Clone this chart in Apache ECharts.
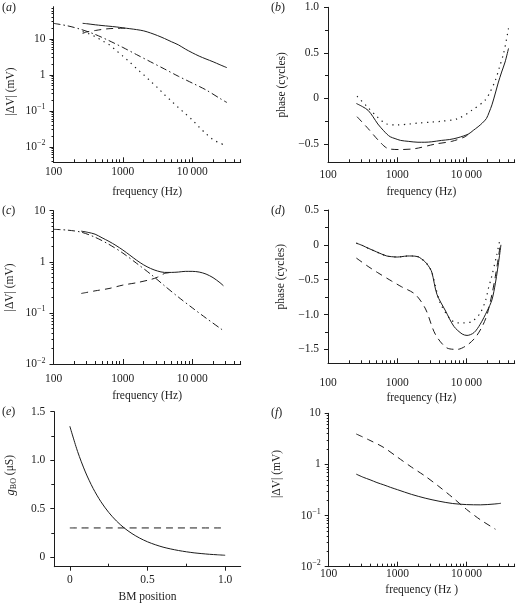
<!DOCTYPE html>
<html><head><meta charset="utf-8">
<script src="https://cdn.jsdelivr.net/npm/echarts@6/dist/echarts.min.js"></script>
<style>html,body{margin:0;padding:0;background:#fff}#c{width:517px;height:604px}</style>
</head><body><div id="c"></div>
<script>
// ---------- DATA ----------
// (a) magnitude
const freqA = [263, 300, 400, 500, 630, 800, 1000, 1260, 1580, 2000, 2510, 3160, 3980, 5010, 6310, 7940, 10000, 12600, 15800, 20000, 25100, 31600];
const aSolid = [26.9, 26.3, 24.5, 23.4, 22.4, 21.4, 20.2, 19.1, 18.0, 16.6, 14.5, 12.3, 10.2, 8.3, 6.8, 5.2, 4.1, 3.3, 2.75, 2.3, 1.9, 1.58];
const freqADash = [263, 300, 400, 500, 630, 800, 1000, 1260];
const aDash = [14.1, 15.5, 17.0, 18.2, 19.1, 19.5, 19.7, 19.1];
const freqADashDot = [100, 160, 250, 400, 630, 1000, 1580, 2510, 3980, 6310, 10000, 15800, 25100, 31600];
const aDashDot = [26.9, 22.9, 18.2, 13.2, 8.9, 5.75, 3.63, 2.29, 1.45, 0.91, 0.59, 0.38, 0.22, 0.17];
const freqADot = [263, 316, 398, 501, 631, 794, 1000, 1259, 1585, 1995, 2512, 3162, 3981, 5012, 6310, 7943, 10000, 12589, 15849, 19953, 25119, 28184];
const aDot = [15.8, 14.1, 11.5, 8.9, 6.9, 4.8, 3.3, 2.24, 1.48, 1.0, 0.66, 0.44, 0.28, 0.186, 0.123, 0.083, 0.056, 0.035, 0.023, 0.0158, 0.0126, 0.0115];
// (b) phase
const freqBSolid = [257, 316, 380, 447, 525, 631, 708, 794, 933, 1122, 1445, 2000, 2512, 3162, 4365, 5754, 7586, 10715, 12589, 14791, 16982, 19498, 21380, 23442, 26303, 28840, 32359, 36308, 40738];
const bSolid = [-0.055, -0.09, -0.13, -0.2, -0.28, -0.35, -0.39, -0.42, -0.44, -0.46, -0.47, -0.48, -0.48, -0.475, -0.46, -0.45, -0.43, -0.39, -0.35, -0.31, -0.27, -0.22, -0.15, -0.07, 0.06, 0.17, 0.29, 0.40, 0.55];
const freqBDot = [263, 363, 513, 708, 1000, 1500, 2000, 3000, 4365, 7586, 12000, 18600, 22000, 26300, 30000, 34700, 40700];
const bDot = [0.025, -0.085, -0.20, -0.28, -0.29, -0.28, -0.27, -0.26, -0.25, -0.22, -0.13, -0.02, 0.07, 0.20, 0.34, 0.5, 0.77];
const freqBDash = [263, 380, 537, 741, 1096, 1820, 3548, 6166, 9550, 10715];
const bDash = [-0.20, -0.33, -0.46, -0.55, -0.56, -0.55, -0.50, -0.47, -0.42, -0.39];
// (c) magnitude
const freqCSolid = [251, 316, 398, 501, 631, 794, 1000, 1259, 1585, 1995, 2512, 3162, 3981, 5012, 6310, 7943, 10000, 12589, 15849, 19953, 25119, 28184];
const cSolid = [3.98, 3.76, 3.47, 2.95, 2.51, 2.09, 1.70, 1.35, 1.07, 0.87, 0.74, 0.66, 0.62, 0.62, 0.63, 0.65, 0.65, 0.63, 0.575, 0.49, 0.39, 0.34];
const freqCDashDot = [100, 158, 251, 398, 631, 1000, 1585, 2512, 3981, 6310, 10000, 15849, 26915];
const cDashDot = [4.32, 4.17, 3.80, 3.02, 2.19, 1.48, 0.93, 0.575, 0.34, 0.204, 0.126, 0.079, 0.047];
const freqCDash = [251, 398, 631, 1000, 1585, 2512, 3162, 3981, 5012];
const cDash = [0.24, 0.27, 0.30, 0.35, 0.39, 0.45, 0.50, 0.59, 0.62];
// (d) phase
const freqDSolid = [257, 316, 380, 501, 589, 708, 832, 1000, 1148, 1413, 1622, 1995, 2239, 2512, 2818, 3162, 3758, 5012, 6607, 8710, 10233, 12882, 15849, 19953, 23442, 26303, 28184, 30200, 31623];
const dSolid = [0.024, -0.01, -0.048, -0.10, -0.13, -0.16, -0.17, -0.175, -0.17, -0.16, -0.16, -0.17, -0.2, -0.24, -0.30, -0.39, -0.71, -0.95, -1.17, -1.28, -1.30, -1.26, -1.14, -0.95, -0.79, -0.55, -0.36, -0.15, 0.0];
const freqDDot = [257, 316, 380, 501, 589, 708, 832, 1000, 1148, 1413, 1622, 1995, 2239, 2512, 2818, 3162, 3548, 4169, 5888, 7413, 9120, 12023, 15849, 19055, 20893, 22909, 27542, 30903];
const dDot = [0.024, -0.01, -0.048, -0.10, -0.13, -0.16, -0.17, -0.175, -0.17, -0.16, -0.16, -0.17, -0.2, -0.24, -0.30, -0.39, -0.58, -0.83, -1.07, -1.12, -1.12, -1.10, -0.98, -0.79, -0.62, -0.48, -0.14, 0.10];
const freqDDash = [257, 380, 525, 832, 1148, 1820, 2570, 3548, 5248, 7413, 10233, 13490, 16982, 19953, 23442, 26303, 28840, 30903];
const dDash = [-0.19, -0.31, -0.40, -0.52, -0.60, -0.71, -0.92, -1.28, -1.48, -1.50, -1.44, -1.33, -1.17, -1.0, -0.71, -0.45, -0.2, 0.0];
// (e) conductance vs BM position
const posE = [0, 0.05, 0.1, 0.15, 0.2, 0.25, 0.3, 0.35, 0.4, 0.45, 0.5, 0.55, 0.6, 0.65, 0.7, 0.75, 0.8, 0.85, 0.9, 0.95, 1.0];
const eSolid = [1.35, 1.089, 0.878, 0.708, 0.571, 0.461, 0.372, 0.300, 0.242, 0.195, 0.157, 0.127, 0.102, 0.083, 0.067, 0.054, 0.043, 0.035, 0.028, 0.023, 0.018];
const posEDash = [0, 1.0];
const eDash = [0.3, 0.3];
// (f) magnitude
const freqFSolid = [251, 316, 398, 501, 631, 794, 1000, 1585, 2512, 3981, 6310, 10000, 15849, 25119, 31623];
const fSolid = [0.646, 0.562, 0.501, 0.442, 0.398, 0.355, 0.320, 0.260, 0.219, 0.191, 0.172, 0.164, 0.162, 0.168, 0.174];
const freqFDash = [251, 398, 631, 1000, 1585, 2512, 3981, 6310, 10000, 15849, 26303];
const fDash = [3.94, 2.95, 2.14, 1.38, 0.89, 0.59, 0.37, 0.224, 0.132, 0.083, 0.054];
// tick values
const freqMajor = [100, 1000, 10000];
const freqMinor = [200, 300, 400, 500, 600, 700, 800, 900, 2000, 3000, 4000, 5000, 6000, 7000, 8000, 9000, 20000, 30000, 40000, 50000];
const magMajor = [0.01, 0.1, 1, 10];
const magMinor = [0.02, 0.03, 0.04, 0.05, 0.06, 0.07, 0.08, 0.09, 0.2, 0.3, 0.4, 0.5, 0.6, 0.7, 0.8, 0.9, 2, 3, 4, 5, 6, 7, 8, 9];
const magMinorA = [0.004, 0.005, 0.006, 0.007, 0.008, 0.009, 0.02, 0.03, 0.04, 0.05, 0.06, 0.07, 0.08, 0.09, 0.2, 0.3, 0.4, 0.5, 0.6, 0.7, 0.8, 0.9, 2, 3, 4, 5, 6, 7, 8, 9, 20, 30, 40, 50, 60, 70];
const phaseMajorB = [-0.5, 0, 0.5, 1.0];
const phaseMinorB = [-0.25, 0.25, 0.75];
const phaseMajorD = [-1.5, -1.0, -0.5, 0, 0.5];
const phaseMinorD = [-1.25, -0.75, -0.25, 0.25];
const gMajor = [0, 0.5, 1.0, 1.5];
const gMinor = [0.25, 0.75, 1.25];
const posMajor = [0, 0.5, 1.0];
const posMinor = [0.25, 0.75];

// ---------- STYLE / BUILD ----------
const FONT = 'Liberation Serif';
const INK = '#1c1c1c';
const RICH = { s: { fontSize: 8, fontFamily: FONT, color: INK, verticalAlign: 'top', lineHeight: 8 }, n: { fontSize: 11.5, fontFamily: FONT, color: INK, lineHeight: 15 } };
const NAMERICH = {
  i: { fontStyle: 'italic', fontSize: 12.5, fontFamily: FONT, color: INK, lineHeight: 16 },
  sub: { fontSize: 8, fontFamily: FONT, color: INK, verticalAlign: 'bottom', lineHeight: 8 },
  t: { fontSize: 11.5, fontFamily: FONT, color: INK, lineHeight: 16 }
};

const fmtFreq = v => (Math.abs(v - 10000) < 1 ? '10\u2009000' : String(Math.round(v)));
const fmtMag = v => (v >= 1 ? '{n|' + Math.round(v) + '}' : '{n|10}{s|\u2212' + Math.round(-Math.log10(v)) + '}');
const fmtLin = v => (Math.abs(v) < 1e-9 ? '0' : (v < 0 ? '\u2212' : '') + Math.abs(v).toFixed(1));

function axisPair(gi, pos, c) {
  const base = { gridIndex: gi, position: pos, type: c.type, min: c.min, max: c.max, splitLine: { show: false }, silent: true };
  if (c.type === 'log') base.logBase = 10;
  const main = Object.assign({}, base, {
    axisLine: { show: true, onZero: false, lineStyle: { color: INK, width: 1 } },
    axisTick: { show: true, inside: c.majorInside, length: c.majorLen, customValues: c.major, lineStyle: { color: INK, width: 1 } },
    axisLabel: { show: true, customValues: c.major, formatter: c.fmt, fontFamily: FONT, fontSize: 11.5, color: INK, margin: c.margin, rich: RICH },
    name: c.name, nameLocation: 'middle', nameGap: c.nameGap,
    nameTextStyle: { fontFamily: FONT, fontSize: 11.5, color: INK, rich: NAMERICH, padding: c.namePad || 0 }
  });
  const minor = Object.assign({}, base, {
    axisLine: { show: false, onZero: false },
    axisLabel: { show: false },
    axisTick: { show: true, inside: c.minorInside, length: c.minorLen, customValues: c.minor, lineStyle: { color: INK, width: 1 } }
  });
  return [main, minor];
}

const grids = [
  { left: 53.5, top: 6.7, width: 187.2, height: 155.6 },
  { left: 328, top: 7.3, width: 186.7, height: 155 },
  { left: 53.5, top: 210.7, width: 187.2, height: 153.3 },
  { left: 328, top: 210, width: 186.7, height: 153.3 },
  { left: 54.3, top: 411.7, width: 186.4, height: 155 },
  { left: 328.7, top: 413.3, width: 186, height: 153.4 }
];

const X = [], Y = [];
const freqX = (gi, margin, gap, name) => axisPair(gi, 'bottom', { type: 'log', min: 100, max: 50000, major: freqMajor, minor: freqMinor, fmt: fmtFreq, majorInside: true, minorInside: true, majorLen: 5, minorLen: 3, margin: margin, name: name, nameGap: gap });
X.push(...freqX(0, 4, 24, 'frequency (Hz)'));
X.push(...freqX(1, 7, 24, 'frequency (Hz)'));
X.push(...freqX(2, 8.5, 26, 'frequency (Hz)'));
X.push(...freqX(3, 13.5, 29, 'frequency (Hz)'));
X.push(...axisPair(4, 'bottom', { type: 'value', min: -0.1, max: 1.1, major: posMajor, minor: posMinor, fmt: fmtLin, majorInside: false, minorInside: true, majorLen: 4, minorLen: 3, margin: 7.5, name: 'BM position', nameGap: 24 }));
X.push(...freqX(5, 1.5, 17, 'frequency (Hz )'));

const magName = '|\u0394V| (mV)';
Y.push(...axisPair(0, 'left', { type: 'log', min: 0.0037, max: 78, major: magMajor, minor: magMinorA, fmt: fmtMag, majorInside: false, minorInside: false, majorLen: 4, minorLen: 2, margin: 8, name: magName, nameGap: 37, namePad: [0, 14, 0, 0] }));
Y.push(...axisPair(1, 'left', { type: 'value', min: -0.7, max: 1.0, major: phaseMajorB, minor: phaseMinorB, fmt: fmtLin, majorInside: false, minorInside: false, majorLen: 4, minorLen: 3, margin: 9, name: 'phase (cycles)', nameGap: 40 }));
Y.push(...axisPair(2, 'left', { type: 'log', min: 0.01, max: 10, major: magMajor, minor: magMinor, fmt: fmtMag, majorInside: false, minorInside: false, majorLen: 4, minorLen: 2, margin: 8, name: magName, nameGap: 38 }));
Y.push(...axisPair(3, 'left', { type: 'value', min: -1.7, max: 0.5, major: phaseMajorD, minor: phaseMinorD, fmt: fmtLin, majorInside: false, minorInside: false, majorLen: 4, minorLen: 3, margin: 9, name: 'phase (cycles)', nameGap: 41, namePad: [0, 0, 0, 20] }));
Y.push(...axisPair(4, 'left', { type: 'value', min: -0.1, max: 1.5, major: gMajor, minor: gMinor, fmt: fmtLin, majorInside: false, minorInside: false, majorLen: 4, minorLen: 3, margin: 9, name: '{i|g}{sub|BO}{t| (\u03bcS)}', nameGap: 36, namePad: [0, 0, 0, 28] }));
Y.push(...axisPair(5, 'left', { type: 'log', min: 0.01, max: 10, major: magMajor, minor: magMinor, fmt: fmtMag, majorInside: false, minorInside: false, majorLen: 4, minorLen: 2, margin: 8, name: magName, nameGap: 46, namePad: [0, 0, 0, 32] }));

const STY = {
  solid: { type: 'solid', width: 1 },
  dash: { type: [7, 5], width: 1 },
  dot: { type: [1.3, 4.5], width: 1.2 },
  dashdot: { type: [7, 3, 1.5, 3], width: 1 }
};
function line(gi, xs, ys, sty) {
  return {
    type: 'line', xAxisIndex: gi * 2, yAxisIndex: gi * 2, showSymbol: false, symbol: 'none',
    smooth: 0.3, silent: true, animation: false,
    lineStyle: Object.assign({ color: INK }, STY[sty]),
    data: xs.map((x, i) => [x, ys[i]])
  };
}
const series = [
  line(0, freqADashDot, aDashDot, 'dashdot'),
  line(0, freqADot, aDot, 'dot'),
  line(0, freqADash, aDash, 'dash'),
  line(0, freqA, aSolid, 'solid'),
  line(1, freqBDot, bDot, 'dot'),
  line(1, freqBDash, bDash, 'dash'),
  line(1, freqBSolid, bSolid, 'solid'),
  line(2, freqCDashDot, cDashDot, 'dashdot'),
  line(2, freqCDash, cDash, 'dash'),
  line(2, freqCSolid, cSolid, 'solid'),
  line(3, freqDDot, dDot, 'dot'),
  line(3, freqDDash, dDash, 'dash'),
  line(3, freqDSolid, dSolid, 'solid'),
  line(4, posEDash, eDash, 'dash'),
  line(4, posE, eSolid, 'solid'),
  line(5, freqFDash, fDash, 'dash'),
  line(5, freqFSolid, fSolid, 'solid')
];

const letters = [['a', 2, 1.5], ['b', 271, 1.5], ['c', 2, 205], ['d', 271, 205], ['e', 2, 405.5], ['f', 271, 406.5]];
const graphic = letters.map(([l, x, y]) => ({
  type: 'text', left: x, top: y, silent: true,
  style: { text: '({i|' + l + '})', fontFamily: FONT, fontSize: 12, fill: INK,
    rich: { i: { fontStyle: 'italic', fontFamily: FONT, fontSize: 12, fill: INK, color: INK } } }
}));

const chart = echarts.init(document.getElementById('c'), null, { renderer: 'canvas' });
chart.setOption({
  animation: false,
  backgroundColor: '#fff',
  grid: grids,
  xAxis: X,
  yAxis: Y,
  series: series,
  graphic: graphic
});
</script></body></html>
